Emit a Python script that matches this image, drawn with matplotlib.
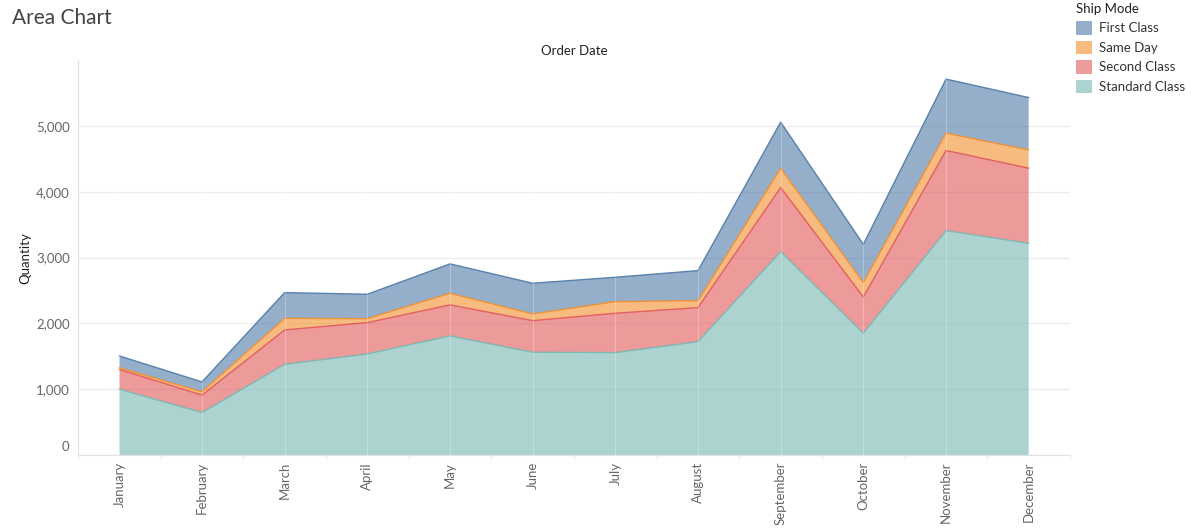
import matplotlib
matplotlib.use("Agg")
import matplotlib.pyplot as plt
import matplotlib.transforms as mtransforms
from matplotlib.patches import Patch
from matplotlib.ticker import FuncFormatter, FixedLocator
import numpy as np

months = ["January", "February", "March", "April", "May", "June", "July",
          "August", "September", "October", "November", "December"]
standard_class = [1000, 645, 1378, 1535, 1809, 1561, 1555, 1722, 3090, 1850, 3409, 3217]
second_class = [300, 265, 522, 476, 471, 480, 598, 517, 973, 550, 1216, 1140]
same_day = [25, 50, 177, 60, 177, 102, 177, 106, 294, 220, 264, 278]
first_class = [180, 150, 390, 371, 446, 466, 370, 456, 699, 580, 821, 795]

series_names = ["Standard Class", "Second Class", "Same Day", "First Class"]
series_vals = [standard_class, second_class, same_day, first_class]
series_colors = ["#76B7B2", "#E15759", "#F28E2B", "#4E79A7"]
y_ticks = [0, 1000, 2000, 3000, 4000, 5000]

FONT = "Lato"
plt.rcParams["font.family"] = [FONT, "DejaVu Sans"]

fig = plt.figure(figsize=(12, 5.31), dpi=100)
W, H = 1200, 531
ax = fig.add_axes([78 / W, 1 - 455 / H, (1070 - 78) / W, (455 - 60) / H])

x = np.arange(len(months))
base = np.zeros(len(months))
for name, vals, col in zip(series_names, series_vals, series_colors):
    top = base + np.array(vals)
    ax.fill_between(x, base, top, facecolor=col, alpha=0.6, edgecolor="none",
                    zorder=2)
    ax.plot(x, top, color=col, lw=1.0, alpha=0.9, zorder=3)
    base = top

for xi in x:
    ax.axvline(xi, color="white", lw=0.8, alpha=0.25, zorder=4)

ax.set_xlim(-0.5, 11.48)
ax.set_ylim(0, 6000)

ax.yaxis.set_major_locator(FixedLocator(y_ticks))
ax.yaxis.set_major_formatter(FuncFormatter(lambda v, p: f"{int(v):,}"))
ax.grid(axis="y", color="#ececec", lw=0.9, zorder=0)
ax.tick_params(axis="y", length=0, pad=6, labelsize=9.5, labelcolor="#666666")

ax.set_xticks(x)
ax.set_xticklabels(months, rotation=90, fontsize=9.5, color="#666666")
ax.tick_params(axis="x", length=0, pad=5)
ax.set_xticks(np.arange(-0.5, 11.6, 1), minor=True)
ax.tick_params(axis="x", which="minor", length=3, color="#e6e6e6", width=0.8)

for s in ["top", "right"]:
    ax.spines[s].set_visible(False)
for s in ["left", "bottom"]:
    ax.spines[s].set_color("#e3e3e3")
    ax.spines[s].set_linewidth(0.9)

# Tableau shifts the "0" label upward
fig.canvas.draw()
for tick in ax.yaxis.get_major_ticks():
    if tick.get_loc() == 0:
        off = mtransforms.ScaledTranslation(0, 9 / 100, fig.dpi_scale_trans)
        tick.label1.set_transform(tick.label1.get_transform() + off)

fig.text(25 / W, 1 - 258 / H, "Quantity", rotation=90, fontsize=9.5,
         color="#222222", ha="center", va="center")
fig.text(574 / W, 1 - 51 / H, "Order Date", fontsize=9.5, color="#222222",
         ha="center", va="center")
fig.text(12 / W, 1 - 18 / H, "Area Chart", fontsize=15, color="#444444",
         ha="left", va="center")

handles = [Patch(facecolor=c, alpha=0.6, edgecolor="none")
           for c in series_colors[::-1]]
leg = fig.legend(handles, series_names[::-1], title="Ship Mode",
                 loc="upper left", bbox_to_anchor=(1067 / W, 1 + 6 / H),
                 frameon=False, fontsize=9.5, title_fontsize=9.5,
                 handlelength=1.2, handleheight=1.2, handletextpad=0.5,
                 labelspacing=0.45, borderpad=0.2)
leg._legend_box.align = "left"
for t in leg.get_texts():
    t.set_color("#333333")
leg.get_title().set_color("#222222")

fig.savefig("out.png", dpi=100)
